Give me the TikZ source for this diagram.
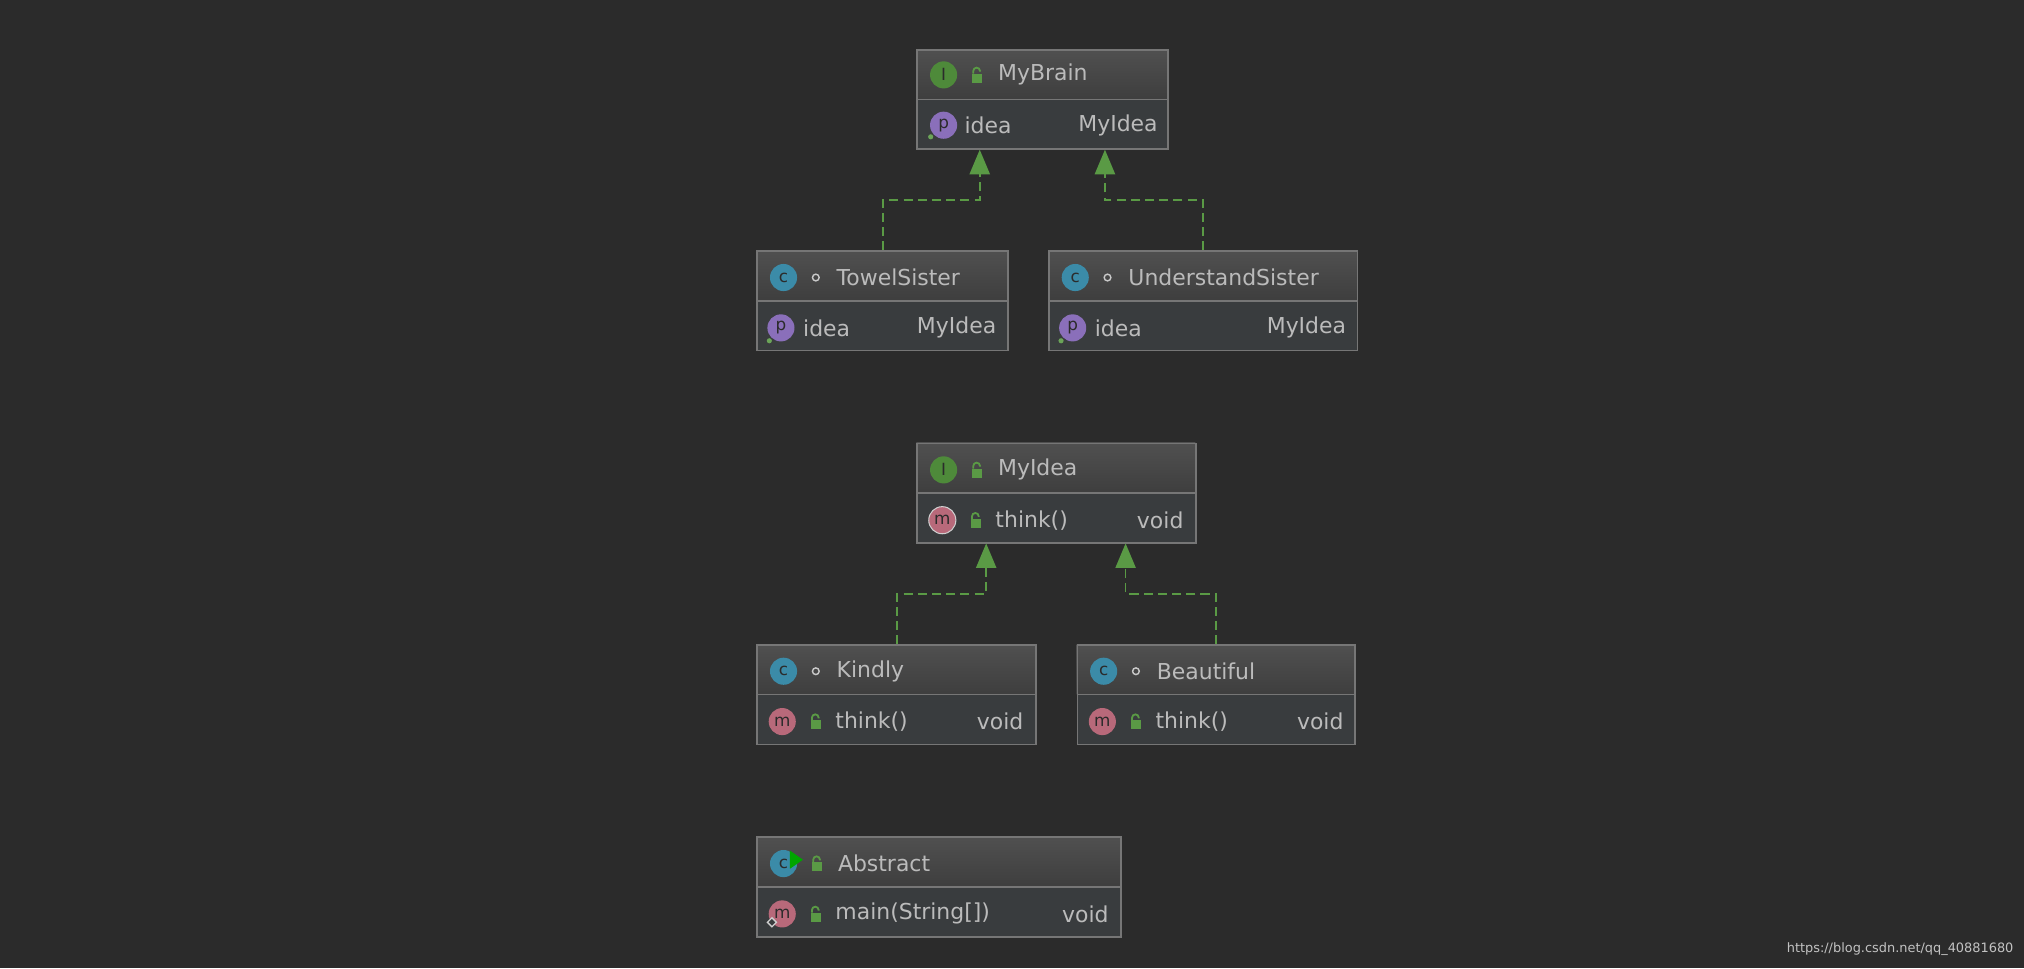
\documentclass[tikz,border=0pt]{standalone}
\usepackage{fontspec}
\setmainfont{DejaVu Sans}
\usetikzlibrary{arrows.meta,calc}
\definecolor{bg}{HTML}{2B2B2B}
\definecolor{hdtop}{HTML}{505050}
\definecolor{hdbot}{HTML}{3E3E3E}
\definecolor{body}{HTML}{393C3E}
\definecolor{brd}{HTML}{767676}
\definecolor{txt}{HTML}{BBBBBB}
\definecolor{grn}{HTML}{5A9A45}
\definecolor{icI}{HTML}{4E8A3A}
\definecolor{icC}{HTML}{3B8BA8}
\definecolor{icP}{HTML}{8A6FBA}
\definecolor{icM}{HTML}{B8697A}
\tikzset{
  x=1pt,y=-1pt,
  t/.style={text=txt,font=\fontsize{17}{17}\selectfont,inner sep=0},
  ic/.style={circle,minimum size=21,inner sep=0,font=\fontsize{13}{13}\selectfont,text=bg},
  real/.style={draw=grn,dash pattern=on 7 off 4,line width=1.2}
}
\newcommand{\ub}[4]{%
  \shade[top color=hdtop,bottom color=hdbot] (#2,#3) rectangle (#4,#3+39);
  \fill[body] (#2,#3+39) rectangle (#4,#3+77);
  \draw[brd,line width=1.3] (#2,#3+39) -- (#4,#3+39);
  \node[draw=brd,line width=1.3,minimum width=#4-#2,minimum height=77,inner sep=0,anchor=north west] (#1) at (#2,#3) {};
}
\newcommand{\lockic}[2]{%
  \fill[grn] (#1-2,#2-1) rectangle (#1+6,#2+6);
  \draw[grn,line width=1.4] (#1-1,#2-1) -- (#1-1,#2-3) arc[start angle=180,end angle=360,radius=2.6] -- (#1+4.2,#2-2.5);
}
\newcommand{\pkgic}[2]{\draw[txt!80,line width=1.1] (#1,#2) circle (2.6);}
\begin{document}
\begin{tikzpicture}
\fill[bg] (0,0) rectangle (1568,750);
\useasboundingbox (0,0) rectangle (1568,750);

\ub{mb}{710}{38}{904}
\node[ic,fill=icI] (mbi) at (731,58) {I};
\lockic{755}{58}
\node[t,anchor=west] (mbt) at (773,58) {MyBrain};
\node[ic,fill=icP] (mbp) at (731,97) {p}; \fill[grn!90!white] (721,106) circle (2);
\node[t,anchor=west] (mbm) at (747,97) {idea};
\node[t,anchor=east] (mbr) at (897,97) {MyIdea};

\ub{ts}{586}{194}{780}
\node[ic,fill=icC] (tsi) at (607,215) {c};
\pkgic{632}{215}
\node[t,anchor=west] (tst) at (648,215) {TowelSister};
\node[ic,fill=icP] (tsp) at (605,254) {p}; \fill[grn!90!white] (596,264) circle (2);
\node[t,anchor=west] (tsm) at (622,254) {idea};
\node[t,anchor=east] (tsr) at (772,254) {MyIdea};

\ub{us}{812}{194}{1051}
\node[ic,fill=icC] (usi) at (833,215) {c};
\pkgic{858}{215}
\node[t,anchor=west] (ust) at (874,215) {UnderstandSister};
\node[ic,fill=icP] (usp) at (831,254) {p}; \fill[grn!90!white] (822,264) circle (2);
\node[t,anchor=west] (usm) at (848,254) {idea};
\node[t,anchor=east] (usr) at (1043,254) {MyIdea};

\ub{mi}{710}{343}{926}
\node[ic,fill=icI] (mii) at (731,364) {I};
\lockic{755}{364}
\node[t,anchor=west] (mit) at (773,364) {MyIdea};
\node[ic,fill=icM,draw=txt!70,line width=0.8] (mim) at (730,403) {m};
\lockic{754}{403}
\node[t,anchor=west] (mim2) at (771,403) {think()};
\node[t,anchor=east] (mir) at (917,403) {void};

\ub{kd}{586}{499}{802}
\node[ic,fill=icC] (kdi) at (607,520) {c};
\pkgic{632}{520}
\node[t,anchor=west] (kdt) at (648,520) {Kindly};
\node[ic,fill=icM] (kdm) at (606,559) {m};
\lockic{630}{559}
\node[t,anchor=west] (kdm2) at (647,559) {think()};
\node[t,anchor=east] (kdr) at (793,559) {void};

\ub{bt}{834}{499}{1049}
\node[ic,fill=icC] (bti) at (855,520) {c};
\pkgic{880}{520}
\node[t,anchor=west] (btt) at (896,520) {Beautiful};
\node[ic,fill=icM] (btm) at (854,559) {m};
\lockic{878}{559}
\node[t,anchor=west] (btm2) at (895,559) {think()};
\node[t,anchor=east] (btr) at (1041,559) {void};

\ub{ab}{586}{648}{868}
\node[ic,fill=icC] (abi) at (607,669) {c};
\fill[green!65!black] (612,659) -- (612,673) -- (622,666) -- cycle;
\lockic{631}{669}
\node[t,anchor=west] (abt) at (649,669) {Abstract};
\node[ic,fill=icM] (abm) at (606,708) {m};
\draw[txt!70,line width=1,fill=body] (598,711) -- (601.5,714.5) -- (598,718) -- (594.5,714.5) -- cycle;
\lockic{630}{708}
\node[t,anchor=west] (abm2) at (647,708) {main(String[])};
\node[t,anchor=east] (abr) at (859,708) {void};

\draw[real] ($(ts.north west)+(98,0)$) |- (759,155) -- (759,134);
\draw[real] ($(us.north west)+(120,0)$) |- (856,155) -- (856,134);
\draw[real] ($(kd.north west)+(109,0)$) |- (764,460) -- (764,439);
\draw[real] ($(bt.north west)+(108,0)$) |- (872,460) -- (872,439);
\fill[grn] (759,116) -- (751,135) -- (767,135) -- cycle;
\fill[grn] (856,116) -- (848,135) -- (864,135) -- cycle;
\fill[grn] (764,421) -- (756,440) -- (772,440) -- cycle;
\fill[grn] (872,421) -- (864,440) -- (880,440) -- cycle;

\node[text=txt!90,font=\fontsize{10}{10}\selectfont,anchor=east,inner sep=0] (wm) at (1560,735) {https://blog.csdn.net/qq\_40881680};
\end{tikzpicture}
\end{document}
